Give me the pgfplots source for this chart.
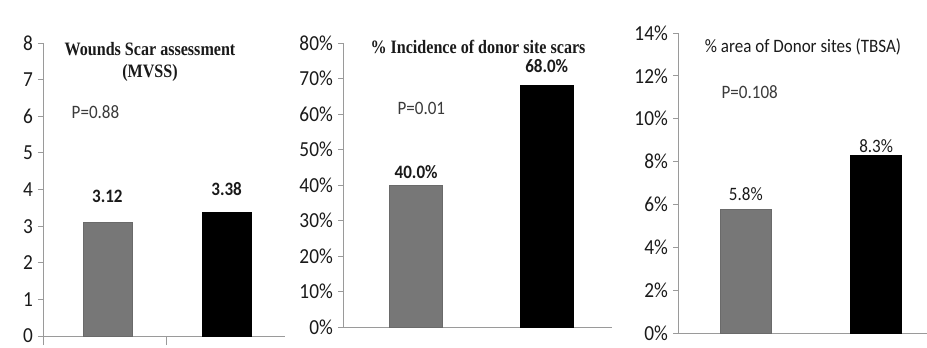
\documentclass[border=0pt]{standalone}
\usepackage{fontspec}
\setmainfont{Carlito}[FakeStretch=0.9]
\newfontfamily\titlefont{Liberation Serif}[FakeStretch=0.85]
\usepackage{pgfplots}
\pgfplotsset{compat=1.18}
\definecolor{bargray}{HTML}{777777}
\definecolor{baredge}{HTML}{6A6A6A}
\definecolor{axgray}{HTML}{9A9A9A}
\definecolor{txt}{HTML}{1A1A1A}
\definecolor{ptxt}{HTML}{3A3A3A}
\pgfplotsset{
  panel/.style={
    scale only axis, anchor=south west,
    axis lines*=left,
    axis line style={axgray, line width=1pt},
    ybar, bar shift=0pt,
    tick align=outside,
    major tick length=5bp,
    tick style={axgray, line width=1pt},
    xtick=\empty,
    /pgf/number format/assume math mode=true,
    y tick label style={font=\fontsize{21.5}{21.5}\selectfont, text=txt, inner sep=1bp, xshift=-4bp},
    ymin=0, clip=false,
    nodes near coords,
    every node near coord/.append style={font=\bfseries\fontsize{19}{19}\selectfont, text=txt, inner sep=0pt, anchor=south},
  },
  graybar/.style={fill=bargray, draw=baredge},
  blackbar/.style={fill=black, draw=black},
}
\begin{document}
\begin{tikzpicture}[x=1bp,y=1bp]
\path[use as bounding box] (0,0) rectangle (927,347);
% Panel 1
\begin{axis}[panel, at={(43bp,11bp)}, width=242bp, height=293bp,
  xmin=0.46, xmax=2.49, ymax=8, ytick={0,1,...,8},
  extra x ticks={0.46,1.5}, extra x tick labels={},
  extra x tick style={major tick length=9bp},
  bar width=49bp,
  nodes near coords={\pgfmathprintnumber[fixed,fixed zerofill,precision=2]{\pgfplotspointmeta}}]
\addplot[graybar, every node near coord/.append style={yshift=19bp}] coordinates {(1,3.12)};
\addplot[blackbar, every node near coord/.append style={yshift=16bp}] coordinates {(2,3.38)};
\node[font=\fontsize{19}{19}\selectfont, text=ptxt] at (axis cs:0.9,6.1) {P=0.88};
\end{axis}
% Panel 2
\begin{axis}[panel, at={(343bp,20bp)}, width=269bp, height=284bp,
  xmin=0.44, xmax=2.5, ymax=80, ytick={0,10,...,80},
  yticklabel={\pgfmathprintnumber{\tick}\%},
  bar width=53bp,
  nodes near coords={\pgfmathprintnumber[fixed,fixed zerofill,precision=1]{\pgfplotspointmeta}\%}]
\addplot[graybar, every node near coord/.append style={yshift=6bp}] coordinates {(1,40.0)};
\addplot[blackbar, every node near coord/.append style={yshift=13bp}] coordinates {(2,68.0)};
\node[font=\fontsize{19}{19}\selectfont, text=ptxt] at (axis cs:1.04,61.7) {P=0.01};
\end{axis}
% Panel 3
\begin{axis}[panel, at={(678bp,14bp)}, width=249bp, height=300bp,
  xmin=0.48, xmax=2.39, ymax=14, ytick={0,2,...,14},
  yticklabel={\pgfmathprintnumber{\tick}\%},
  bar width=51bp,
  every node near coord/.append style={font=\fontsize{19}{19}\selectfont},
  nodes near coords={\pgfmathprintnumber[fixed,precision=1]{\pgfplotspointmeta}\%}]
\addplot[graybar, every node near coord/.append style={yshift=8bp}] coordinates {(1,5.8)};
\addplot[blackbar, every node near coord/.append style={yshift=2bp}] coordinates {(2,8.3)};
\node[font=\fontsize{19}{19}\selectfont, text=ptxt] at (axis cs:1.03,11.25) {P=0.108};
\end{axis}
% Titles
\node[font=\titlefont\bfseries\fontsize{19}{22}\selectfont, text=txt, align=center] at (150,285) {Wounds Scar assessment\\(MVSS)};
\node[font=\titlefont\bfseries\fontsize{19}{22}\selectfont, text=txt] at (478,300) {\% Incidence of donor site scars};
\node[font=\fontsize{19}{19}\selectfont, text=txt] at (803,300) {\% area of Donor sites (TBSA)};
\end{tikzpicture}
\end{document}
